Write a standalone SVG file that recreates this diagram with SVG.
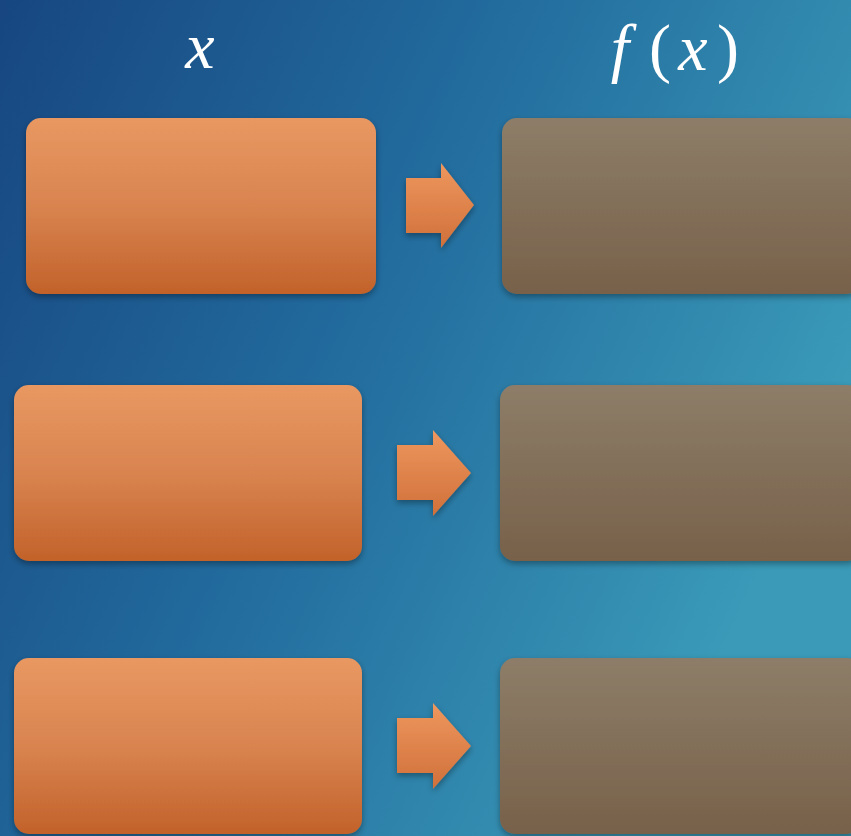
<svg xmlns="http://www.w3.org/2000/svg" width="851" height="836" viewBox="0 0 851 836">
<style>
.lbl{font-family:"Liberation Serif","DejaVu Serif",serif;fill:#ffffff;font-size:66px}
.it{font-style:italic}
.in{fill:url(#gOr)}
.out{fill:url(#gBr)}
.arr{fill:url(#gAr)}
</style>
<defs>
<linearGradient id="bg" x1="0" y1="0" x2="1" y2="0.45">
<stop offset="0" stop-color="#174680"/>
<stop offset="0.5" stop-color="#226c9e"/>
<stop offset="1" stop-color="#3a9ab8"/>
</linearGradient>
<linearGradient id="gOr" x1="0" y1="0" x2="0" y2="1">
<stop offset="0" stop-color="#e99862"/>
<stop offset="0.5" stop-color="#d98450"/>
<stop offset="1" stop-color="#c2622a"/>
</linearGradient>
<linearGradient id="gBr" x1="0" y1="0" x2="0" y2="1">
<stop offset="0" stop-color="#8d7d68"/>
<stop offset="1" stop-color="#78614a"/>
</linearGradient>
<linearGradient id="gAr" x1="0" y1="0" x2="0" y2="1">
<stop offset="0" stop-color="#ee975e"/>
<stop offset="1" stop-color="#d0703a"/>
</linearGradient>
<filter id="sh" x="-10%" y="-10%" width="120%" height="130%">
<feDropShadow dx="0" dy="3" stdDeviation="3" flood-color="#000" flood-opacity="0.35"/>
</filter>
</defs>
<rect width="851" height="836" fill="url(#bg)"/>
<text class="lbl it" x="200" y="68" text-anchor="middle">x</text>
<g id="fx-label">
<text class="lbl it" x="620" y="70" text-anchor="middle">f</text>
<text class="lbl" x="660" y="70" text-anchor="middle">(</text>
<text class="lbl it" x="693" y="70" text-anchor="middle">x</text>
<text class="lbl" x="728" y="70" text-anchor="middle">)</text>
</g>
<g id="in1" filter="url(#sh)"><rect class="in" x="26" y="118" width="350" height="176" rx="15"/></g>
<g id="out1" filter="url(#sh)"><rect class="out" x="502" y="118" width="360" height="176" rx="15"/></g>
<g id="in2" filter="url(#sh)"><rect class="in" x="14" y="385" width="348" height="176" rx="15"/></g>
<g id="out2" filter="url(#sh)"><rect class="out" x="500" y="385" width="362" height="176" rx="15"/></g>
<g id="in3" filter="url(#sh)"><rect class="in" x="14" y="658" width="348" height="176" rx="15"/></g>
<g id="out3" filter="url(#sh)"><rect class="out" x="500" y="658" width="362" height="176" rx="15"/></g>
<g id="connectors" filter="url(#sh)">
<polygon class="arr" points="406,178 441,178 441,163 474,205 441,248 441,233 406,233"/>
<polygon class="arr" points="397,445 433,445 433,430 471,473 433,516 433,500 397,500"/>
<polygon class="arr" points="397,718 433,718 433,703 471,746 433,789 433,773 397,773"/>
</g>
</svg>
